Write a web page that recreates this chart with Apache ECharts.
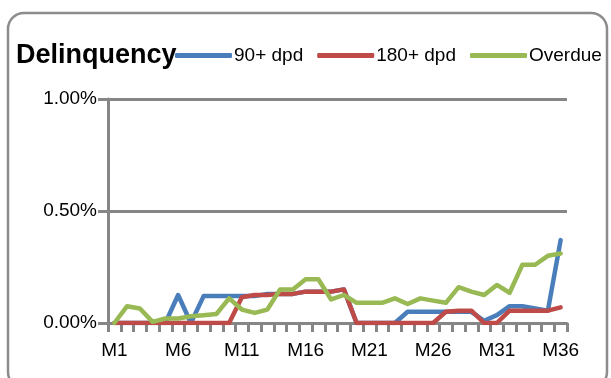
<!DOCTYPE html>
<html>
<head>
<meta charset="utf-8">
<script src="https://cdn.jsdelivr.net/npm/echarts@6/dist/echarts.min.js"></script>
<style>
html,body{margin:0;padding:0;background:#fff;}
#c{width:611px;height:378px;}
</style>
</head>
<body>
<div id="c"></div>
<script>
const months = ['M1','M2','M3','M4','M5','M6','M7','M8','M9','M10','M11','M12','M13','M14','M15','M16','M17','M18','M19','M20','M21','M22','M23','M24','M25','M26','M27','M28','M29','M30','M31','M32','M33','M34','M35','M36'];
const dpd90 = [0,0,0,0,0,0.125,0,0.12,0.12,0.12,0.12,0.12,0.13,0.13,0.13,0.14,0.14,0.14,0.15,0,0,0,0,0.05,0.05,0.05,0.05,0.05,0.05,0.01,0.035,0.075,0.075,0.065,0.055,0.37];
const dpd180 = [0,0,0,0,0,0,0,0,0,0,0.115,0.125,0.125,0.13,0.13,0.14,0.14,0.14,0.15,0,0,0,0,0,0,0,0.05,0.055,0.055,0,0,0.055,0.055,0.055,0.055,0.07];
const overdue = [0,0.075,0.065,0.005,0.02,0.02,0.03,0.035,0.04,0.11,0.06,0.045,0.06,0.15,0.15,0.195,0.195,0.105,0.125,0.09,0.09,0.09,0.11,0.085,0.11,0.10,0.09,0.16,0.14,0.125,0.17,0.135,0.26,0.26,0.30,0.31];
const yTicks = [0, 0.5, 1.0];

const FONT = '"Liberation Sans", Arial, sans-serif';
const GRAY = '#868686';
const chart = echarts.init(document.getElementById('c'), null, {renderer:'canvas'});
chart.setOption({
  animation:false,
  backgroundColor:'#fff',
  graphic:[{
    type:'rect', shape:{x:8, y:13, width:599, height:375, r:16},
    style:{fill:'none', stroke:'#8c8c8c', lineWidth:2.5}, z:-1
  }],
  title:{
    text:'Delinquency', left:11, top:37,
    textStyle:{fontFamily:FONT, fontWeight:'bold', fontSize:27, color:'#000'}
  },
  legend:{
    left:170, top:41, itemWidth:57, itemHeight:5, itemGap:14,
    icon:'roundRect',
    textStyle:{fontFamily:FONT, fontSize:19, color:'#000', padding:[0,0,0,-3]},
    data:['90+ dpd','180+ dpd','Overdue']
  },
  grid:{left:108, right:44, top:99, bottom:55, containLabel:false},
  xAxis:{
    type:'category', data:months, boundaryGap:true,
    axisLine:{lineStyle:{color:GRAY, width:3}},
    axisTick:{show:true, interval:0, length:9, lineStyle:{color:GRAY, width:3}},
    axisLabel:{interval:4, fontFamily:FONT, fontSize:19, color:'#000', margin:18}
  },
  yAxis:{
    type:'value', min:yTicks[0], max:yTicks[yTicks.length-1], interval:0.5,
    axisLine:{show:true, lineStyle:{color:GRAY, width:3}},
    axisTick:{show:true, length:10, lineStyle:{color:GRAY, width:3}},
    splitLine:{lineStyle:{color:GRAY, width:3}},
    axisLabel:{fontFamily:FONT, fontSize:19, color:'#000', margin:11,
      formatter:v=>v.toFixed(2)+'%'}
  },
  series:[
    {name:'90+ dpd', type:'line', data:dpd90, symbol:'none', color:'#4a7ebb',
      lineStyle:{width:4.5, cap:'round', join:'round'}},
    {name:'180+ dpd', type:'line', data:dpd180, symbol:'none', color:'#be4b48',
      lineStyle:{width:4.5, cap:'round', join:'round'}},
    {name:'Overdue', type:'line', data:overdue, symbol:'none', color:'#98b954',
      lineStyle:{width:4.5, cap:'round', join:'round'}}
  ]
});
</script>
</body>
</html>
